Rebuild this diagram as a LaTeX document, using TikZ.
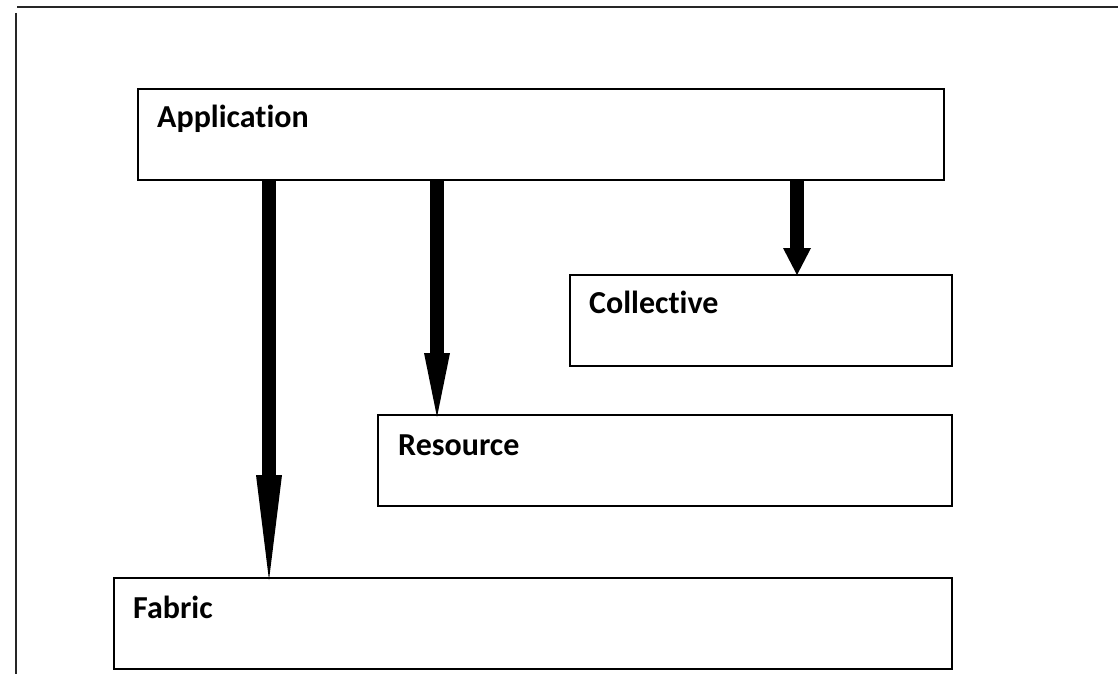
\documentclass[tikz,border=0pt]{standalone}
\usepackage{fontspec}
\setmainfont{Carlito}[Ligatures=NoCommon]
\usetikzlibrary{arrows.meta,positioning}
\begin{document}
\begin{tikzpicture}[x=1pt,y=1pt,
  box/.style={draw=black,line width=2pt,minimum width=#1,minimum height=91pt,inner sep=0pt,fill=white},
  lbl/.style={anchor=base west,inner sep=0pt,font=\fontsize{32}{37}\selectfont\bfseries},
  frame/.style={draw=black!85,line width=2pt},
  bigarrow/.style={draw=black,line width=14pt}
]
\useasboundingbox (0,0) rectangle (1118,-674);
% frame lines
\draw[frame] (17,-7) -- (1118,-7);
\draw[frame] (16,-13) -- (16,-674);
% boxes
\node[box=806pt] (app) at (541,-134.5) {};
\node[box=382pt] (col) at (761,-320.5) {};
\node[box=574pt] (res) at (665,-460.5) {};
\node[box=838pt] (fab) at (533,-623.5) {};
% labels
\node[lbl] (tapp) at ([shift={(20,-40)}]app.north west) {Application};
\node[lbl] (tcol) at ([shift={(20,-39)}]col.north west) {Collective};
\node[lbl] (tres) at ([shift={(21,-41)}]res.north west) {Resource};
\node[lbl] (tfab) at ([shift={(20,-41)}]fab.north west) {Fabric};
% arrows
\path (app.south west) ++(132,1) coordinate (a1);
\path (app.south west) ++(300,1) coordinate (a2);
\path (app.south west) ++(660,1) coordinate (a3);
\draw[bigarrow,-{Triangle[width=26pt,length=105pt,line width=0pt]}] (a1) -- ([yshift=-3pt]a1 |- fab.north);
\draw[bigarrow,-{Triangle[width=26pt,length=64pt,line width=0pt]}] (a2) -- ([yshift=-3pt]a2 |- res.north);
\draw[bigarrow,-{Triangle[width=28pt,length=27pt,line width=0pt]}] (a3) -- ([yshift=-1pt]a3 |- col.north);
\end{tikzpicture}
\end{document}
